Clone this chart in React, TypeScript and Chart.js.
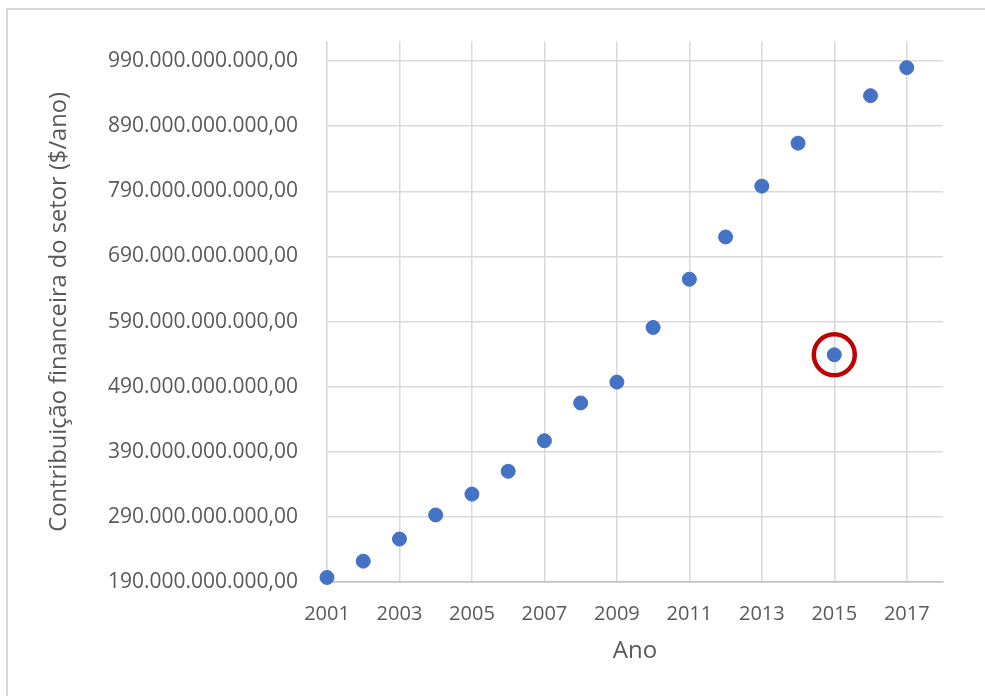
import React, { useEffect, useRef } from "react";
import { Chart, registerables } from "chart.js";

Chart.register(...registerables);

// Ano de referência de cada ponto
const anos = [2001, 2002, 2003, 2004, 2005, 2006, 2007, 2008, 2009, 2010, 2011, 2012, 2013, 2014, 2015, 2016, 2017];

// Contribuição financeira do setor, em bilhões ($/ano)
const contribuicaoBilhoes = [197, 222, 256, 293, 325, 360, 407, 465, 497, 581, 655, 720, 798, 864, 539, 937, 980];

// Ponto destacado com o anel vermelho
const anoDestacado = 2015;

// Marcas dos eixos
const rotulosX = [2001, 2003, 2005, 2007, 2009, 2011, 2013, 2015, 2017];
const rotulosY = [190, 290, 390, 490, 590, 690, 790, 890, 990];

const limitesX = { min: 2001, max: 2018 };
const limitesY = { min: 190, max: 1020 };

const tituloX = "Ano";
const tituloY = "Contribuição financeira do setor ($/ano)";

const FONTE = "'Open Sans', 'Noto Sans', sans-serif";
const COR_TEXTO = "#595959";
const COR_GRADE = "#d9d9d9";

// 990 -> "990.000.000.000,00"
function formatarValor(bilhoes: number): string {
  const inteiro = Math.round(bilhoes * 1e9).toString();
  return inteiro.replace(/\B(?=(\d{3})+(?!\d))/g, ".") + ",00";
}

// Fundo branco e moldura cinza do gráfico
const moldura = {
  id: "moldura",
  beforeDraw(chart: Chart) {
    const ctx = chart.ctx;
    ctx.save();
    ctx.fillStyle = "#ffffff";
    ctx.fillRect(0, 0, chart.width, chart.height);
    ctx.strokeStyle = COR_GRADE;
    ctx.lineWidth = 2;
    ctx.strokeRect(7, 9, chart.width, chart.height);
    ctx.restore();
  },
};

export default function App() {
  const canvasRef = useRef<HTMLCanvasElement | null>(null);

  useEffect(() => {
    if (!canvasRef.current) return;

    const pontos = anos.map((ano, i) => ({ x: ano, y: contribuicaoBilhoes[i] }));
    const idx = anos.indexOf(anoDestacado);
    const destaque = [{ x: anos[idx], y: contribuicaoBilhoes[idx] }];

    const chart = new Chart(canvasRef.current, {
      type: "scatter",
      data: {
        datasets: [
          {
            label: "destaque",
            data: destaque,
            clip: false,
            pointRadius: 20.5,
            pointHoverRadius: 20.5,
            pointBorderWidth: 4.5,
            pointBorderColor: "#c00000",
            pointBackgroundColor: "rgba(0,0,0,0)",
            order: 0,
          },
          {
            label: "Contribuição",
            data: pontos,
            clip: false,
            pointRadius: 7,
            pointHoverRadius: 7,
            pointBorderWidth: 1,
            pointBorderColor: "#4472c4",
            pointBackgroundColor: "#4472c4",
            order: 1,
          },
        ],
      },
      plugins: [moldura],
      options: {
        responsive: false,
        animation: false,
        devicePixelRatio: 1,
        layout: { padding: { top: 38, right: 42, left: 0, bottom: 0 } },
        plugins: {
          legend: { display: false },
          tooltip: { enabled: false },
        },
        scales: {
          x: {
            type: "linear",
            min: limitesX.min,
            max: limitesX.max,
            afterBuildTicks: (axis: any) => {
              axis.ticks = rotulosX.map((v) => ({ value: v }));
            },
            afterFit: (scale: any) => {
              scale.height = 114;
            },
            grid: { color: COR_GRADE, lineWidth: 1.5, drawTicks: false },
            border: { color: "#bfbfbf", width: 1.5 },
            ticks: {
              padding: 20,
              color: COR_TEXTO,
              font: { family: FONTE, size: 20 },
              maxRotation: 0,
              autoSkip: false,
              callback: (v: any) => String(v),
            },
            title: {
              display: true,
              text: tituloX,
              color: COR_TEXTO,
              font: { family: FONTE, size: 24 },
              padding: { top: 0, bottom: 30 },
            },
          },
          y: {
            type: "linear",
            min: limitesY.min,
            max: limitesY.max,
            afterBuildTicks: (axis: any) => {
              axis.ticks = rotulosY.map((v) => ({ value: v }));
            },
            afterFit: (scale: any) => {
              scale.width = 327;
            },
            grid: { color: COR_GRADE, lineWidth: 1.5, drawTicks: false },
            border: { color: COR_GRADE, width: 1.5 },
            ticks: {
              padding: 29,
              color: COR_TEXTO,
              font: { family: FONTE, size: 21 },
              autoSkip: false,
              callback: (v: any) => formatarValor(Number(v)),
            },
            title: {
              display: true,
              text: tituloY,
              color: COR_TEXTO,
              font: { family: FONTE, size: 23.7 },
              padding: { top: 45, bottom: 0 },
            },
          },
        },
      },
    });

    return () => chart.destroy();
  }, []);

  return (
    <div style={{ position: "fixed", left: 0, top: 0, width: 985, height: 696, background: "#fff" }}>
      <canvas ref={canvasRef} width={985} height={696} style={{ display: "block" }} />
    </div>
  );
}
